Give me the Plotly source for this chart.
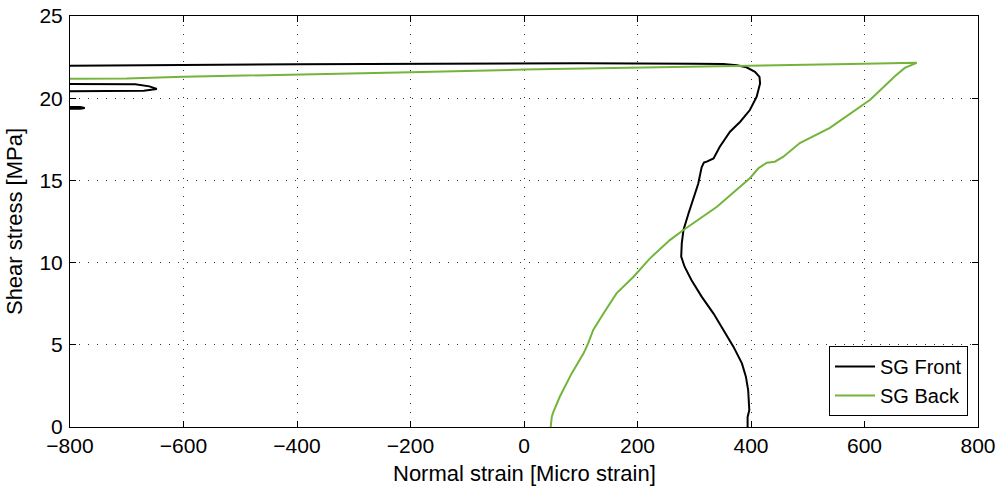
import plotly.graph_objects as go

# SG Front (black) – digitised
front_x = [394, 394, 397, 395, 391, 384, 369, 351, 334, 313, 295, 283, 277, 278, 281, 290, 298, 307, 313, 317,
           322, 334, 345, 363, 381, 398, 410, 416, 415, 407, 392, 375, 351, 300, 100, -150, -400, -800, -900,
           -900, -685, -660, -647, -670, -800, -900,
           -900, -782, -774, -782, -900]
front_y = [0.0, 0.6, 1.03, 2.25, 3.06, 3.87, 4.89, 5.9, 6.9, 7.93, 8.94, 9.75, 10.36, 11.17, 11.98, 13.0, 13.8, 14.8, 15.8, 16.08,
           16.14, 16.34, 17.05, 17.96, 18.57, 19.28, 20.09, 20.9, 21.3, 21.6, 21.88, 22.0, 22.08, 22.1, 22.13, 22.12, 22.07, 21.98, 21.96,
           20.87, 20.85, 20.72, 20.56, 20.45, 20.42, 20.41,
           19.47, 19.46, 19.41, 19.36, 19.35]

# SG Back (green) – digitised
back_x = [47, 49, 52, 63, 84, 105, 113, 122, 140, 163, 193, 222, 257, 281, 340, 398, 413, 428, 442, 457, 486, 539,
          610, 654, 671, 692, 600, 372, 0, -200, -400, -600, -700, -800, -900]
back_y = [0.0, 0.63, 0.93, 1.84, 3.26, 4.48, 5.09, 5.9, 6.9, 8.13, 9.14, 10.26, 11.37, 11.98, 13.4, 15.13, 15.74, 16.08, 16.14, 16.44, 17.27, 18.2,
          19.9, 21.35, 21.84, 22.15, 22.1, 21.97, 21.74, 21.58, 21.45, 21.3, 21.2, 21.17, 21.16]

x_ticks = [-800, -600, -400, -200, 0, 200, 400, 600, 800]
y_ticks = [0, 5, 10, 15, 20, 25]

FONT = "Liberation Sans, Arial, Helvetica, sans-serif"
FS = 21

fig = go.Figure()
fig.add_trace(go.Scatter(x=front_x, y=front_y, mode="lines", name="SG Front",
                         line=dict(color="black", width=2)))
fig.add_trace(go.Scatter(x=back_x, y=back_y, mode="lines", name="SG Back",
                         line=dict(color="#74B43A", width=2)))

axis_common = dict(showline=True, linecolor="black", linewidth=1, mirror="ticks",
                   ticks="inside", ticklen=6, tickcolor="black", zeroline=False,
                   showgrid=True, gridcolor="#333333", gridwidth=1, griddash="1px,8px",
                   automargin=False, ticklabeloverflow="allow",
                   tickfont=dict(family=FONT, size=FS, color="black"))

fig.update_xaxes(range=[-800, 800], tickvals=x_ticks, ticklabelstandoff=0, **axis_common)
fig.update_yaxes(range=[0, 25], tickvals=y_ticks, ticklabelstandoff=2,
                 title=dict(text="Shear stress [MPa]", font=dict(family=FONT, size=FS + 1, color="black"), standoff=10),
                 **axis_common)

# x-axis title placed as an annotation (axis title is clamped by the bottom margin)
fig.add_annotation(text="Normal strain [Micro strain]", xref="paper", yref="paper", x=0.5, y=0,
                   xanchor="center", yanchor="middle", yshift=-46, showarrow=False,
                   font=dict(family=FONT, size=FS + 1, color="black"))

fig.update_layout(
    width=1001, height=488,
    margin=dict(l=70, r=23, t=16, b=61),
    plot_bgcolor="white", paper_bgcolor="white",
    font=dict(family=FONT, size=FS, color="black"),
    legend=dict(x=0.989, y=0.027, xanchor="right", yanchor="bottom",
                bordercolor="black", borderwidth=1, bgcolor="white",
                font=dict(family=FONT, size=FS - 1, color="black"),
                tracegroupgap=0, itemwidth=40),
    showlegend=True,
)

# remove the browser's default 8px body margin so the figure fills the window exactly
fig.write_html("out.html", config={"displayModeBar": False},
               post_script="document.body.style.margin='0';document.body.style.overflow='hidden';")
